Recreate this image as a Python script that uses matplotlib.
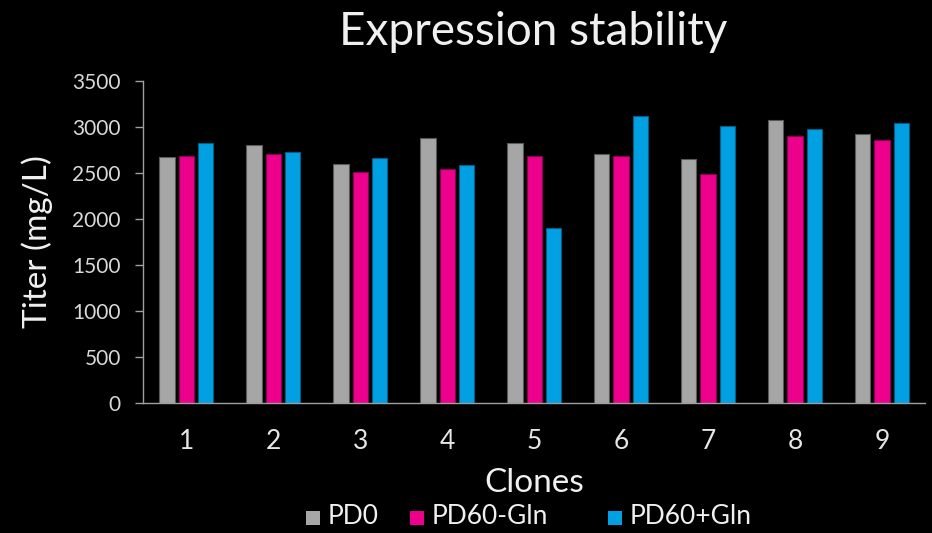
import numpy as np
import matplotlib.pyplot as plt
from matplotlib.patches import Rectangle

clones = ["1", "2", "3", "4", "5", "6", "7", "8", "9"]
pd0 = [2672, 2799, 2596, 2879, 2825, 2705, 2650, 3071, 2923]
pd60_minus_gln = [2679, 2708, 2512, 2542, 2687, 2679, 2491, 2904, 2861]
pd60_plus_gln = [2825, 2727, 2665, 2589, 1906, 3122, 3013, 2977, 3043]

series_names = ["PD0", "PD60-Gln", "PD60+Gln"]
fill_colors = ["#a6a6a6", "#ec008c", "#00a0e3"]
edge_colors = ["#5a5a5a", "#8a0052", "#005f88"]

plt.rcParams["font.family"] = ["Lato", "DejaVu Sans"]
text_color = "#f0f0f0"

W, H = 932, 533
fig = plt.figure(figsize=(W / 100, H / 100), dpi=100, facecolor="black")
ax = fig.add_axes([0.1534, 0.2445, 0.8395, 0.6035], facecolor="black")

x = np.arange(len(clones))
width = 0.176
step = 0.222
for i, vals in enumerate([pd0, pd60_minus_gln, pd60_plus_gln]):
    ax.bar(x + (i - 1) * step, vals, width, color=fill_colors[i],
           edgecolor=edge_colors[i], linewidth=0.8, label=series_names[i])

ax.set_xlim(-0.5, len(clones) - 0.5)
ax.set_ylim(0, 3500)
ax.set_yticks(np.arange(0, 3501, 500))
ax.set_xticks(x)
ax.set_xticklabels(clones)

for side in ["top", "right"]:
    ax.spines[side].set_visible(False)
for side in ["left", "bottom"]:
    ax.spines[side].set_color("#a0a0a0")
    ax.spines[side].set_linewidth(1.0)

ax.tick_params(axis="y", colors="#a0a0a0", labelcolor="#d9d9d9",
               labelsize=15, length=6, width=1, pad=10)
ax.tick_params(axis="x", length=0, labelcolor="#e6e6e6", labelsize=19, pad=19)

ax.set_ylabel("Titer (mg/L)", color=text_color, fontsize=24, labelpad=14)
ax.set_xlabel("Clones", color=text_color, fontsize=24, labelpad=10)
fig.text(0.572, 0.94, "Expression stability", color=text_color,
         fontsize=33, ha="center", va="center")

# legend drawn by hand: swatch + label at fixed pixel spots
legend_x = [306, 410, 608]
for name, color, px in zip(series_names, fill_colors, legend_x):
    fig.add_artist(Rectangle((px / W, 1 - 525 / H), 14 / W, 14 / H,
                             transform=fig.transFigure, facecolor=color,
                             edgecolor="none"))
    fig.text((px + 22) / W, 1 - 517 / H, name, color=text_color,
             fontsize=19, ha="left", va="center")

fig.savefig("out.png", dpi=100, facecolor="black")
